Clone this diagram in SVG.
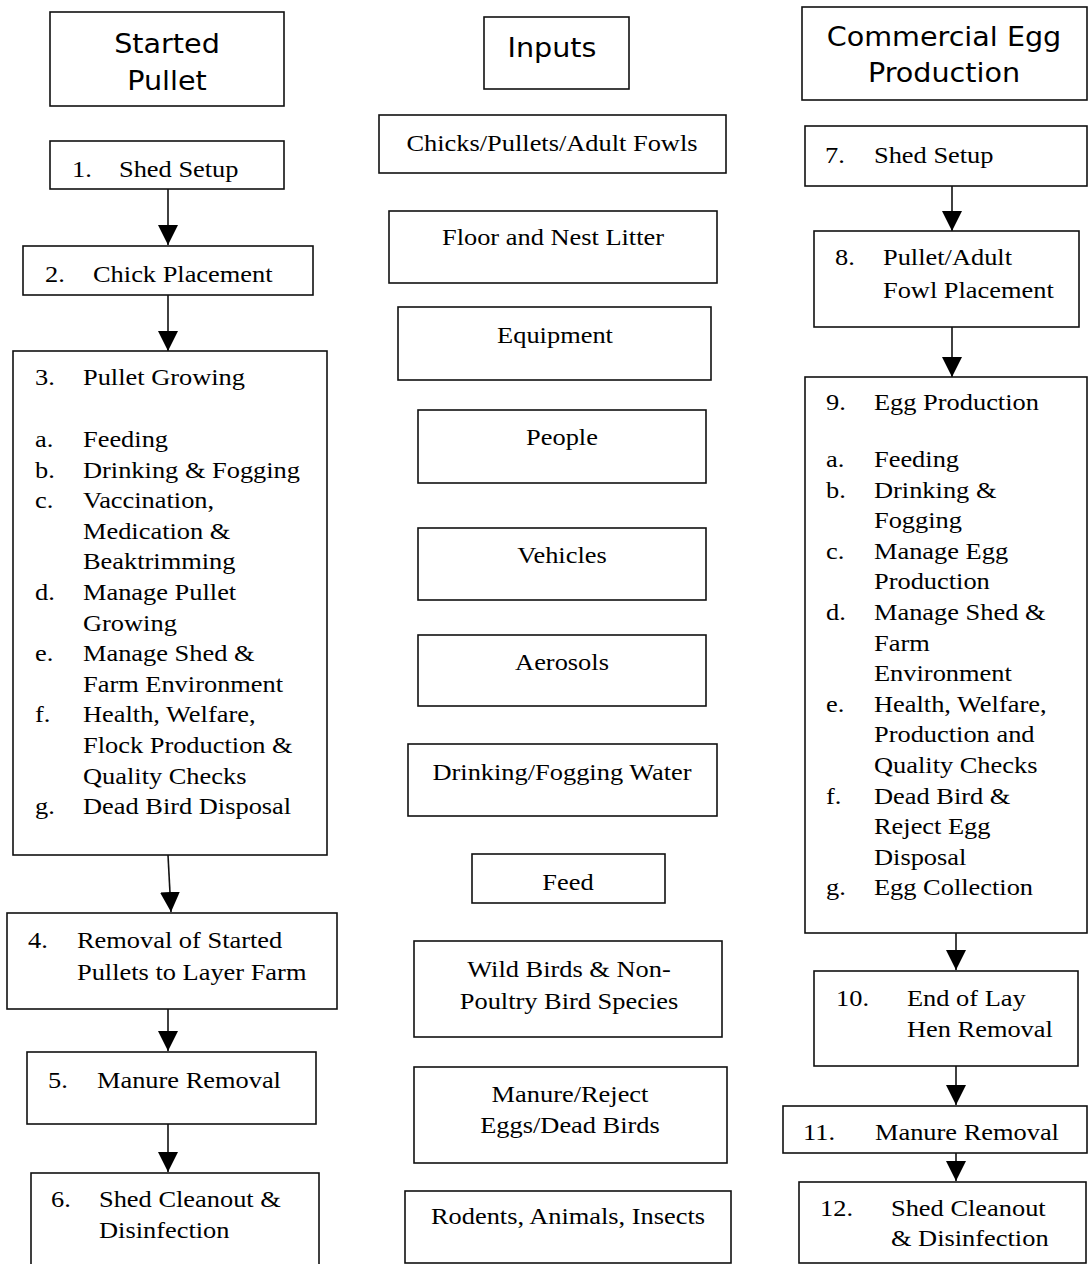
<svg xmlns="http://www.w3.org/2000/svg" width="1088" height="1264" viewBox="0 0 1088 1264">
<style>
.box{fill:#fff;stroke:#111;stroke-width:1.6}
.t{font-family:"Liberation Serif","Times New Roman",serif;font-size:24px;fill:#000}
.m{text-anchor:middle}
.h{font-family:"DejaVu Sans","Liberation Sans",sans-serif;font-size:26px;fill:#000;text-anchor:middle}
.c{stroke:#111;stroke-width:1.6;fill:none;marker-end:url(#ah)}
</style>
<defs>
<marker id="ah" markerUnits="userSpaceOnUse" markerWidth="20" markerHeight="20" refX="20" refY="10" orient="auto">
<path d="M0,0 L20,10 L0,20 z" fill="#000"/>
</marker>
</defs>
<rect width="1088" height="1264" fill="#fff"/>

<g id="connectors">
<line class="c" x1="168" y1="189" x2="168" y2="245"/>
<line class="c" x1="168" y1="295" x2="168" y2="351"/>
<line class="c" x1="168" y1="855" x2="171" y2="912"/>
<line class="c" x1="168" y1="1009" x2="168" y2="1051"/>
<line class="c" x1="168" y1="1124" x2="168" y2="1172"/>
<line class="c" x1="952" y1="186" x2="952" y2="231"/>
<line class="c" x1="952" y1="327" x2="952" y2="377"/>
<line class="c" x1="956" y1="933" x2="956" y2="970"/>
<line class="c" x1="956" y1="1066" x2="956" y2="1105"/>
<line class="c" x1="956" y1="1153" x2="956" y2="1181"/>
</g>

<!-- Left column -->
<g id="started-pullet">
<rect class="box" x="50" y="12" width="234" height="94"/>
<text class="h" transform="translate(167,0) scale(1.1,1)"><tspan x="0" y="53">Started</tspan><tspan x="0" y="90">Pullet</tspan></text>
</g>
<g id="n1">
<rect class="box" x="50" y="141" width="234" height="48"/>
<text class="t" transform="translate(72,0) scale(1.1,1)"><tspan x="0" y="177">1.</tspan></text>
<text class="t" transform="translate(119,0) scale(1.1,1)"><tspan x="0" y="177">Shed Setup</tspan></text>
</g>
<g id="n2">
<rect class="box" x="23" y="246" width="290" height="49"/>
<text class="t" transform="translate(45,0) scale(1.1,1)"><tspan x="0" y="282">2.</tspan></text>
<text class="t" transform="translate(93,0) scale(1.1,1)"><tspan x="0" y="282">Chick Placement</tspan></text>
</g>
<g id="n3">
<rect class="box" x="13" y="351" width="314" height="504"/>
<text class="t" transform="translate(35,0) scale(1.1,1)"><tspan x="0" y="385">3.</tspan><tspan x="0" y="447">a.</tspan><tspan x="0" y="477.6">b.</tspan><tspan x="0" y="508.2">c.</tspan><tspan x="0" y="600">d.</tspan><tspan x="0" y="661.2">e.</tspan><tspan x="0" y="722.4">f.</tspan><tspan x="0" y="814.2">g.</tspan></text>
<text class="t" transform="translate(83,0) scale(1.1,1)"><tspan x="0" y="385">Pullet Growing</tspan><tspan x="0" y="447">Feeding</tspan><tspan x="0" y="477.6">Drinking &amp; Fogging</tspan><tspan x="0" y="508.2">Vaccination,</tspan><tspan x="0" y="538.8">Medication &amp;</tspan><tspan x="0" y="569.4">Beaktrimming</tspan><tspan x="0" y="600">Manage Pullet</tspan><tspan x="0" y="630.6">Growing</tspan><tspan x="0" y="661.2">Manage Shed &amp;</tspan><tspan x="0" y="691.8">Farm Environment</tspan><tspan x="0" y="722.4">Health, Welfare,</tspan><tspan x="0" y="753">Flock Production &amp;</tspan><tspan x="0" y="783.6">Quality Checks</tspan><tspan x="0" y="814.2">Dead Bird Disposal</tspan></text>
</g>
<g id="n4">
<rect class="box" x="7" y="913" width="330" height="96"/>
<text class="t" transform="translate(28,0) scale(1.1,1)"><tspan x="0" y="948">4.</tspan></text>
<text class="t" transform="translate(77,0) scale(1.1,1)"><tspan x="0" y="948">Removal of Started</tspan><tspan x="0" y="980">Pullets to Layer Farm</tspan></text>
</g>
<g id="n5">
<rect class="box" x="27" y="1052" width="289" height="72"/>
<text class="t" transform="translate(48,0) scale(1.1,1)"><tspan x="0" y="1088">5.</tspan></text>
<text class="t" transform="translate(97,0) scale(1.1,1)"><tspan x="0" y="1088">Manure Removal</tspan></text>
</g>
<g id="n6">
<rect class="box" x="31" y="1173" width="288" height="100"/>
<text class="t" transform="translate(51,0) scale(1.1,1)"><tspan x="0" y="1207">6.</tspan></text>
<text class="t" transform="translate(99,0) scale(1.1,1)"><tspan x="0" y="1207">Shed Cleanout &amp;</tspan><tspan x="0" y="1238">Disinfection</tspan></text>
</g>

<!-- Middle column -->
<g id="inputs">
<rect class="box" x="484" y="17" width="145" height="72"/>
<text class="h" transform="translate(552,0) scale(1.1,1)"><tspan x="0" y="57">Inputs</tspan></text>
</g>
<g id="i1">
<rect class="box" x="379" y="115" width="347" height="58"/>
<text class="t m" transform="translate(552,0) scale(1.1,1)"><tspan x="0" y="151">Chicks/Pullets/Adult Fowls</tspan></text>
</g>
<g id="i2">
<rect class="box" x="389" y="211" width="328" height="72"/>
<text class="t m" transform="translate(553,0) scale(1.1,1)"><tspan x="0" y="245">Floor and Nest Litter</tspan></text>
</g>
<g id="i3">
<rect class="box" x="398" y="307" width="313" height="73"/>
<text class="t m" transform="translate(555,0) scale(1.1,1)"><tspan x="0" y="343">Equipment</tspan></text>
</g>
<g id="i4">
<rect class="box" x="418" y="410" width="288" height="73"/>
<text class="t m" transform="translate(562,0) scale(1.1,1)"><tspan x="0" y="445">People</tspan></text>
</g>
<g id="i5">
<rect class="box" x="418" y="528" width="288" height="72"/>
<text class="t m" transform="translate(562,0) scale(1.1,1)"><tspan x="0" y="563">Vehicles</tspan></text>
</g>
<g id="i6">
<rect class="box" x="418" y="635" width="288" height="71"/>
<text class="t m" transform="translate(562,0) scale(1.1,1)"><tspan x="0" y="670">Aerosols</tspan></text>
</g>
<g id="i7">
<rect class="box" x="408" y="744" width="309" height="72"/>
<text class="t m" transform="translate(562,0) scale(1.1,1)"><tspan x="0" y="780">Drinking/Fogging Water</tspan></text>
</g>
<g id="i8">
<rect class="box" x="472" y="854" width="193" height="49"/>
<text class="t m" transform="translate(568,0) scale(1.1,1)"><tspan x="0" y="890">Feed</tspan></text>
</g>
<g id="i9">
<rect class="box" x="414" y="941" width="308" height="96"/>
<text class="t m" transform="translate(569,0) scale(1.1,1)"><tspan x="0" y="977">Wild Birds &amp; Non-</tspan><tspan x="0" y="1009">Poultry Bird Species</tspan></text>
</g>
<g id="i10">
<rect class="box" x="414" y="1067" width="313" height="96"/>
<text class="t m" transform="translate(570,0) scale(1.1,1)"><tspan x="0" y="1102">Manure/Reject</tspan><tspan x="0" y="1133">Eggs/Dead Birds</tspan></text>
</g>
<g id="i11">
<rect class="box" x="405" y="1191" width="326" height="72"/>
<text class="t m" transform="translate(568,0) scale(1.1,1)"><tspan x="0" y="1224">Rodents, Animals, Insects</tspan></text>
</g>

<!-- Right column -->
<g id="commercial-egg">
<rect class="box" x="802" y="7" width="285" height="93"/>
<text class="h" transform="translate(944,0) scale(1.1,1)"><tspan x="0" y="46">Commercial Egg</tspan><tspan x="0" y="82">Production</tspan></text>
</g>
<g id="n7">
<rect class="box" x="805" y="126" width="282" height="60"/>
<text class="t" transform="translate(825,0) scale(1.1,1)"><tspan x="0" y="163">7.</tspan></text>
<text class="t" transform="translate(874,0) scale(1.1,1)"><tspan x="0" y="163">Shed Setup</tspan></text>
</g>
<g id="n8">
<rect class="box" x="814" y="231" width="265" height="96"/>
<text class="t" transform="translate(835,0) scale(1.1,1)"><tspan x="0" y="265">8.</tspan></text>
<text class="t" transform="translate(883,0) scale(1.1,1)"><tspan x="0" y="265">Pullet/Adult</tspan><tspan x="0" y="298">Fowl Placement</tspan></text>
</g>
<g id="n9">
<rect class="box" x="805" y="377" width="282" height="556"/>
<text class="t" transform="translate(826,0) scale(1.1,1)"><tspan x="0" y="410">9.</tspan><tspan x="0" y="467">a.</tspan><tspan x="0" y="497.6">b.</tspan><tspan x="0" y="558.8">c.</tspan><tspan x="0" y="620">d.</tspan><tspan x="0" y="711.8">e.</tspan><tspan x="0" y="803.6">f.</tspan><tspan x="0" y="895.4">g.</tspan></text>
<text class="t" transform="translate(874,0) scale(1.1,1)"><tspan x="0" y="410">Egg Production</tspan><tspan x="0" y="467">Feeding</tspan><tspan x="0" y="497.6">Drinking &amp;</tspan><tspan x="0" y="528.2">Fogging</tspan><tspan x="0" y="558.8">Manage Egg</tspan><tspan x="0" y="589.4">Production</tspan><tspan x="0" y="620">Manage Shed &amp;</tspan><tspan x="0" y="650.6">Farm</tspan><tspan x="0" y="681.2">Environment</tspan><tspan x="0" y="711.8">Health, Welfare,</tspan><tspan x="0" y="742.4">Production and</tspan><tspan x="0" y="773">Quality Checks</tspan><tspan x="0" y="803.6">Dead Bird &amp;</tspan><tspan x="0" y="834.2">Reject Egg</tspan><tspan x="0" y="864.8">Disposal</tspan><tspan x="0" y="895.4">Egg Collection</tspan></text>
</g>
<g id="n10">
<rect class="box" x="814" y="971" width="264" height="95"/>
<text class="t" transform="translate(836,0) scale(1.1,1)"><tspan x="0" y="1006">10.</tspan></text>
<text class="t" transform="translate(907,0) scale(1.1,1)"><tspan x="0" y="1006">End of Lay</tspan><tspan x="0" y="1037">Hen Removal</tspan></text>
</g>
<g id="n11">
<rect class="box" x="783" y="1106" width="304" height="47"/>
<text class="t" transform="translate(803,0) scale(1.1,1)"><tspan x="0" y="1140">11.</tspan></text>
<text class="t" transform="translate(875,0) scale(1.1,1)"><tspan x="0" y="1140">Manure Removal</tspan></text>
</g>
<g id="n12">
<rect class="box" x="799" y="1182" width="287" height="81"/>
<text class="t" transform="translate(820,0) scale(1.1,1)"><tspan x="0" y="1216">12.</tspan></text>
<text class="t" transform="translate(891,0) scale(1.1,1)"><tspan x="0" y="1216">Shed Cleanout</tspan><tspan x="0" y="1246">&amp; Disinfection</tspan></text>
</g>
</svg>
